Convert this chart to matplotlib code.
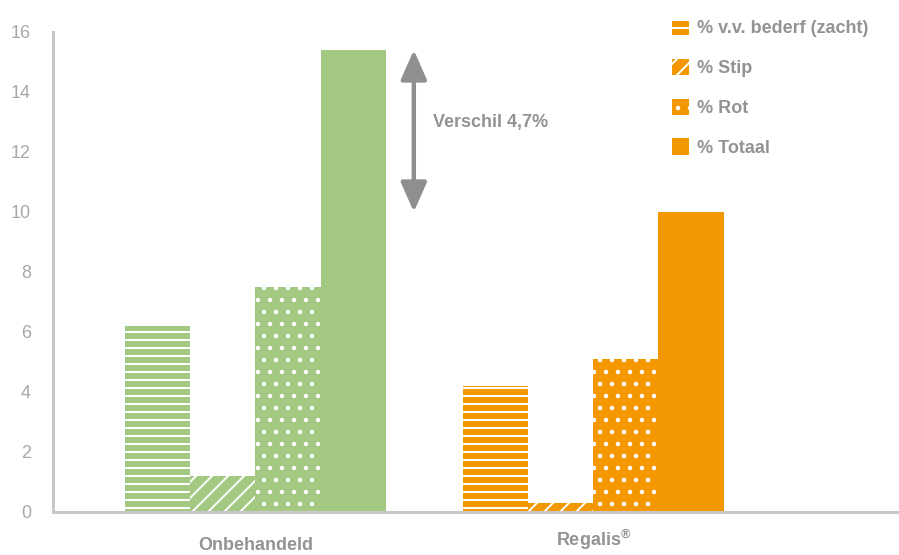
import numpy as np
import matplotlib.pyplot as plt

plt.rcParams['font.family'] = ['Liberation Sans', 'DejaVu Sans']
plt.rcParams['hatch.linewidth'] = 1.0
plt.rcParams['mathtext.fontset'] = 'custom'
plt.rcParams['mathtext.rm'] = 'Liberation Sans:bold'
plt.rcParams['mathtext.it'] = 'Liberation Sans:bold'

# data
groups = ['Onbehandeld', 'Regalis$^{®}$']
series = ['% v.v. bederf (zacht)', '% Stip', '% Rot', '% Totaal']
onbehandeld = [6.2, 1.2, 7.5, 15.4]
regalis = [4.2, 0.3, 5.1, 10.0]
yticks = [0, 2, 4, 6, 8, 10, 12, 14, 16]
verschil_label = 'Verschil 4,7%'

# style
colors = ['#a3c882', '#f39800']
hatches = ['---', '///', '..', '']
text_grey = '#939393'
axis_grey = '#c8c8c8'

# dpi 144 keeps the hatch spacing close to the original pattern
dpi = 144
fig = plt.figure(figsize=(899 / dpi, 555 / dpi), dpi=dpi)
ax = fig.add_axes([53 / 899, 43 / 555, 846 / 899, 480 / 555])

x = np.arange(len(groups))
w = 0.193
offsets = (np.arange(len(series)) - 1.5) * w

containers = []
for gi, vals in enumerate([onbehandeld, regalis]):
    for si, v in enumerate(vals):
        b = ax.bar(x[gi] + offsets[si], v, w, color=colors[gi],
                   hatch=hatches[si], edgecolor='white', linewidth=0)
        if gi == 1:
            containers.append(b)

ax.set_xlim(-0.599, 1.905)
ax.set_ylim(0, 16)

for s in ['top', 'right']:
    ax.spines[s].set_visible(False)
for s in ['left', 'bottom']:
    ax.spines[s].set_color(axis_grey)
    ax.spines[s].set_linewidth(1.5)

ax.set_yticks(yticks)
ax.tick_params(axis='y', length=0, pad=11, labelsize=9, labelcolor='#a8a8a8')
ax.set_xticks(x)
ax.set_xticklabels([])
ax.tick_params(axis='x', length=0)

# category labels (baseline of Regalis sits a little higher, as in the original)
label_y = [-0.079, -0.071]
for gi, name in enumerate(groups):
    ax.text(x[gi], label_y[gi], name, transform=ax.get_xaxis_transform(),
            ha='center', va='baseline', fontsize=9, fontweight='bold',
            color=text_grey)

# difference arrow between the two totals
arrow_x = 0.469
ax.annotate('', xy=(arrow_x, regalis[3]), xytext=(arrow_x, onbehandeld[3]),
            arrowprops=dict(arrowstyle='<|-|>,head_length=1.25,head_width=0.55',
                            color='#8f8f8f', lw=2.2, shrinkA=0, shrinkB=0))
ax.text(0.525, (regalis[3] + onbehandeld[3]) / 2 + 0.3, verschil_label,
        fontsize=9, fontweight='bold', color=text_grey, va='center', ha='left')

leg = ax.legend(containers, series, loc='upper left',
                bbox_to_anchor=(672 / 899, 1 - 19 / 555),
                bbox_transform=fig.transFigure, frameon=False,
                prop={'size': 9, 'weight': 'bold'}, labelcolor=text_grey,
                handlelength=0.95, handleheight=1.0, handletextpad=0.45,
                labelspacing=1.2, borderpad=0, borderaxespad=0)

fig.savefig('out.png', dpi=dpi)
